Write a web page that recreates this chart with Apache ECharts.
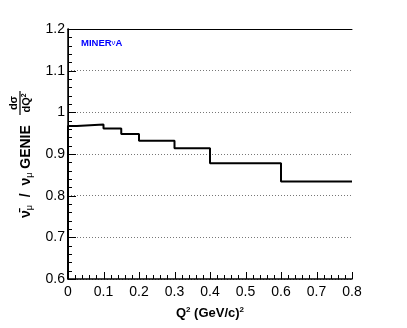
<!DOCTYPE html>
<html>
<head>
<meta charset="utf-8">
<script src="https://cdn.jsdelivr.net/npm/echarts@6/dist/echarts.min.js"></script>
<style>
  html, body { margin: 0; padding: 0; background: #fff; }
  #c { width: 407px; height: 328px; }
</style>
</head>
<body>
<div id="c"></div>
<script>
// bin edges in Q2 and ratio values for each bin
var binEdges = [0, 0.025, 0.1, 0.15, 0.2, 0.3, 0.4, 0.6, 0.8];
var ratio = [0.967, 0.971, 0.961, 0.948, 0.932, 0.914, 0.878, 0.834];
var xTicks = [0, 0.8, 0.1];
var yTicks = [0.6, 1.2, 0.1];

// step line: start at frame bottom, then one point per bin
var stepData = [[binEdges[0], yTicks[0]]];
for (var i = 0; i < ratio.length; i++) {
    stepData.push([binEdges[i], ratio[i]]);
}
stepData.push([binEdges[binEdges.length - 1], ratio[ratio.length - 1]]);

var font = 'Liberation Sans';
// plain axis used only to close the frame on top / right
function frameAxis(pos, min, max) {
    return {
        type: 'value', position: pos, min: min, max: max,
        axisLine: { show: true, lineStyle: { color: '#000', width: 1 } },
        axisTick: { show: false }, axisLabel: { show: false }, splitLine: { show: false }
    };
}

var labels = [
    {
        type: 'text', left: 81, top: 38,
        style: {
            text: '{b|MINER}{n|ν}{b|A}',
            rich: {
                b: { fill: '#0000ff', fontSize: 9.5, fontWeight: 'bold', fontFamily: font },
                n: { fill: '#0000ff', fontSize: 8, fontFamily: font }
            }
        }
    },
    {
        type: 'group', x: 26, y: 218, rotation: Math.PI / 2,
        children: [
            {
                type: 'text', x: 0, y: 0,
                style: {
                    text: '{b|ν̄}{s|μ}{b|  /  ν}{s|μ}{b| GENIE}',
                    verticalAlign: 'middle', align: 'left',
                    rich: {
                        b: { fill: '#000', fontSize: 14, fontWeight: 'bold', fontFamily: font },
                        s: { fill: '#000', fontSize: 9, fontFamily: font, padding: [7, 0, 0, 0] }
                    }
                }
            },
            {
                type: 'text', x: 115, y: -12,
                style: {
                    text: 'dσ', align: 'center', verticalAlign: 'middle',
                    fill: '#000', fontSize: 11, fontWeight: 'bold', fontFamily: font
                }
            },
            {
                type: 'line',
                shape: { x1: 103, y1: -6, x2: 127, y2: -6 },
                style: { stroke: '#000', lineWidth: 1.2 }
            },
            {
                type: 'text', x: 115, y: 1,
                style: {
                    text: '{b|dQ}{s|2}', align: 'center', verticalAlign: 'middle',
                    rich: {
                        b: { fill: '#000', fontSize: 11, fontWeight: 'bold', fontFamily: font },
                        s: { fill: '#000', fontSize: 7, fontWeight: 'bold', fontFamily: font, padding: [0, 0, 6, 0] }
                    }
                }
            }
        ]
    }
];

var chart = echarts.init(document.getElementById('c'));
var option = {
    animation: false,
    grid: { left: 68, right: 55, top: 29, bottom: 49 },
    xAxis: [{
        type: 'value',
        min: xTicks[0], max: xTicks[1], interval: xTicks[2],
        axisLine: { show: true, lineStyle: { color: '#000', width: 1.5 } },
        axisTick: { show: false },
        splitLine: { show: false },
        axisLabel: { color: '#000', fontSize: 14, fontFamily: font, margin: 6 },
        name: '{b|Q}{s|2}{b| (GeV/c)}{s|2}',
        nameLocation: 'middle',
        nameGap: 27,
        nameTextStyle: {
            rich: {
                b: { color: '#000', fontSize: 13, fontWeight: 'bold', fontFamily: font },
                s: { color: '#000', fontSize: 8, fontWeight: 'bold', fontFamily: font, padding: [0, 0, 7, 0] }
            }
        }
    }, frameAxis('top', xTicks[0], xTicks[1])],
    yAxis: [{
        type: 'value',
        min: yTicks[0], max: yTicks[1], interval: yTicks[2],
        axisLine: { show: true, lineStyle: { color: '#000', width: 1.5 } },
        axisTick: { show: false },
        splitLine: { show: true, lineStyle: { color: '#777', type: [1, 2], width: 1 } },
        axisLabel: { color: '#000', fontSize: 14, fontFamily: font, margin: 3 }
    }, frameAxis('right', yTicks[0], yTicks[1])],
    series: [{
        type: 'line',
        step: 'end',
        data: stepData,
        symbol: 'none',
        clip: false,
        lineStyle: { color: '#000', width: 2 }
    }],
    graphic: labels
};
chart.setOption(option);

// ROOT-style inside ticks, placed through the axes' own scale
var ticks = [];
function addTicks(isX, t, majorLen, minorLen) {
    var n = Math.round((t[1] - t[0]) / t[2]) * 5;
    for (var k = 0; k <= n; k++) {
        var v = t[0] + k * t[2] / 5;
        var len = k % 5 === 0 ? majorLen : minorLen;
        var p, shape;
        if (isX) {
            p = chart.convertToPixel({ xAxisIndex: 0, yAxisIndex: 0 }, [v, yTicks[0]]);
            var x = Math.round(p[0]) + 0.5;
            shape = { x1: x, y1: p[1], x2: x, y2: p[1] - len };
        } else {
            p = chart.convertToPixel({ xAxisIndex: 0, yAxisIndex: 0 }, [xTicks[0], v]);
            var y = Math.round(p[1]) + 0.5;
            shape = { x1: p[0], y1: y, x2: p[0] + len, y2: y };
        }
        ticks.push({ type: 'line', z: 100, shape: shape, style: { stroke: '#000', lineWidth: 1 } });
    }
}
addTicks(true, xTicks, 7, 4);
addTicks(false, yTicks, 8, 4);
chart.setOption({ graphic: labels.concat(ticks) });
</script>
</body>
</html>
